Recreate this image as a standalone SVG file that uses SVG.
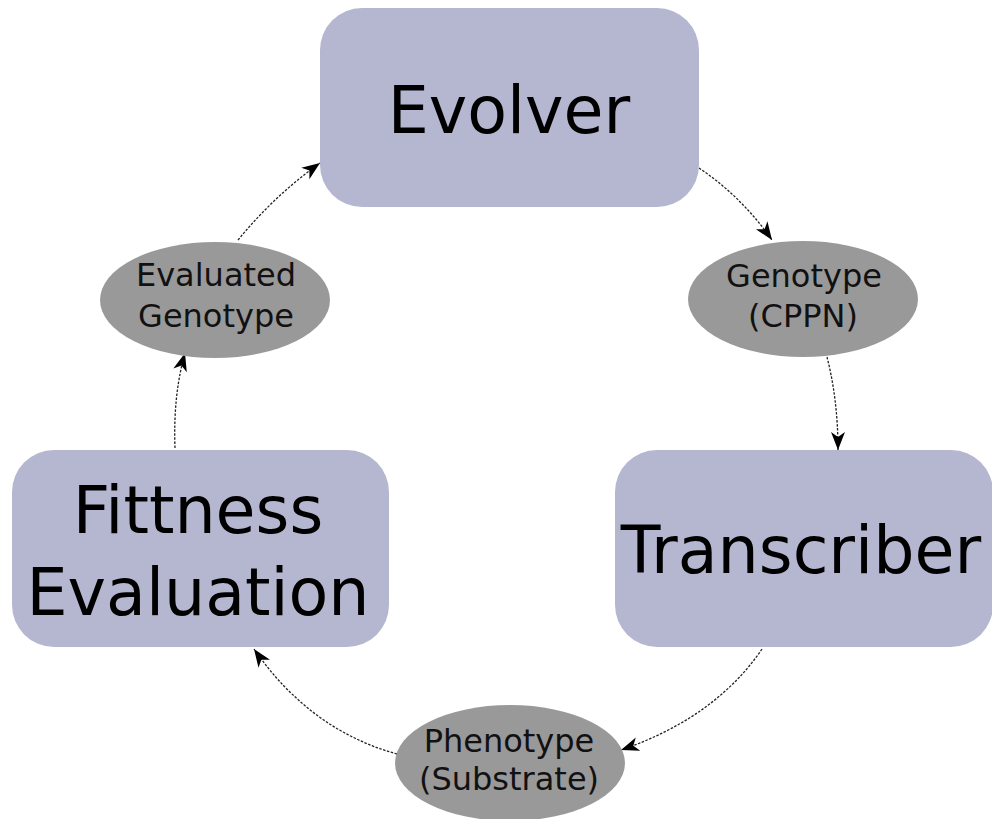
<svg xmlns="http://www.w3.org/2000/svg" width="992" height="819" viewBox="0 0 992 819">
  <style>
    .box { fill: #b5b7d0; }
    .data { fill: #999999; }
    .big { font-family: "DejaVu Sans", sans-serif; font-size: 65px; fill: #000; text-anchor: middle; }
    .small { font-family: "DejaVu Sans", sans-serif; font-size: 32px; fill: #111; text-anchor: middle; }
    .flow { fill: none; stroke: #222; stroke-width: 1.3; stroke-dasharray: 2.5 1.5; marker-end: url(#head); }
  </style>
  <defs>
    <marker id="head" markerUnits="userSpaceOnUse" markerWidth="22" markerHeight="18" viewBox="-19 -9 21 18" refX="0" refY="0" orient="auto">
      <path d="M0,0 L-18,-7 L-13,0 L-18,7 Z" fill="#000"/>
    </marker>
  </defs>
  <rect width="992" height="819" fill="#fff"/>

  <g id="connectors">
    <path class="flow" d="M699,168 Q742,197 772,240"/>
    <path class="flow" d="M827,357 Q838,400 838,450"/>
    <path class="flow" d="M762,649 Q715,718 621,750"/>
    <path class="flow" d="M397,754 Q310,730 254,649"/>
    <path class="flow" d="M175,448 Q173,395 185,353"/>
    <path class="flow" d="M238,240 Q275,195 320,163"/>
  </g>

  <g id="evolver">
    <rect class="box" x="320" y="8" width="379" height="199" rx="42"/>
    <text class="big" x="509" y="133">Evolver</text>
  </g>

  <g id="genotype">
    <ellipse class="data" cx="803" cy="299" rx="115" ry="58"/>
    <text class="small" x="804" y="287">Genotype</text>
    <text class="small" x="803" y="327">(CPPN)</text>
  </g>

  <g id="transcriber">
    <rect class="box" x="615" y="450" width="378" height="197" rx="42"/>
    <text class="big" x="801" y="573">Transcriber</text>
  </g>

  <g id="phenotype">
    <ellipse class="data" cx="510" cy="763" rx="115" ry="58"/>
    <text class="small" x="509" y="752">Phenotype</text>
    <text class="small" x="509" y="790">(Substrate)</text>
  </g>

  <g id="fitness">
    <rect class="box" x="12" y="450" width="377" height="197" rx="42"/>
    <text class="big" x="198" y="533">Fittness</text>
    <text class="big" x="198" y="615">Evaluation</text>
  </g>

  <g id="evaluated">
    <ellipse class="data" cx="215" cy="300" rx="115" ry="58"/>
    <text class="small" x="216" y="286">Evaluated</text>
    <text class="small" x="216" y="327">Genotype</text>
  </g>
</svg>
